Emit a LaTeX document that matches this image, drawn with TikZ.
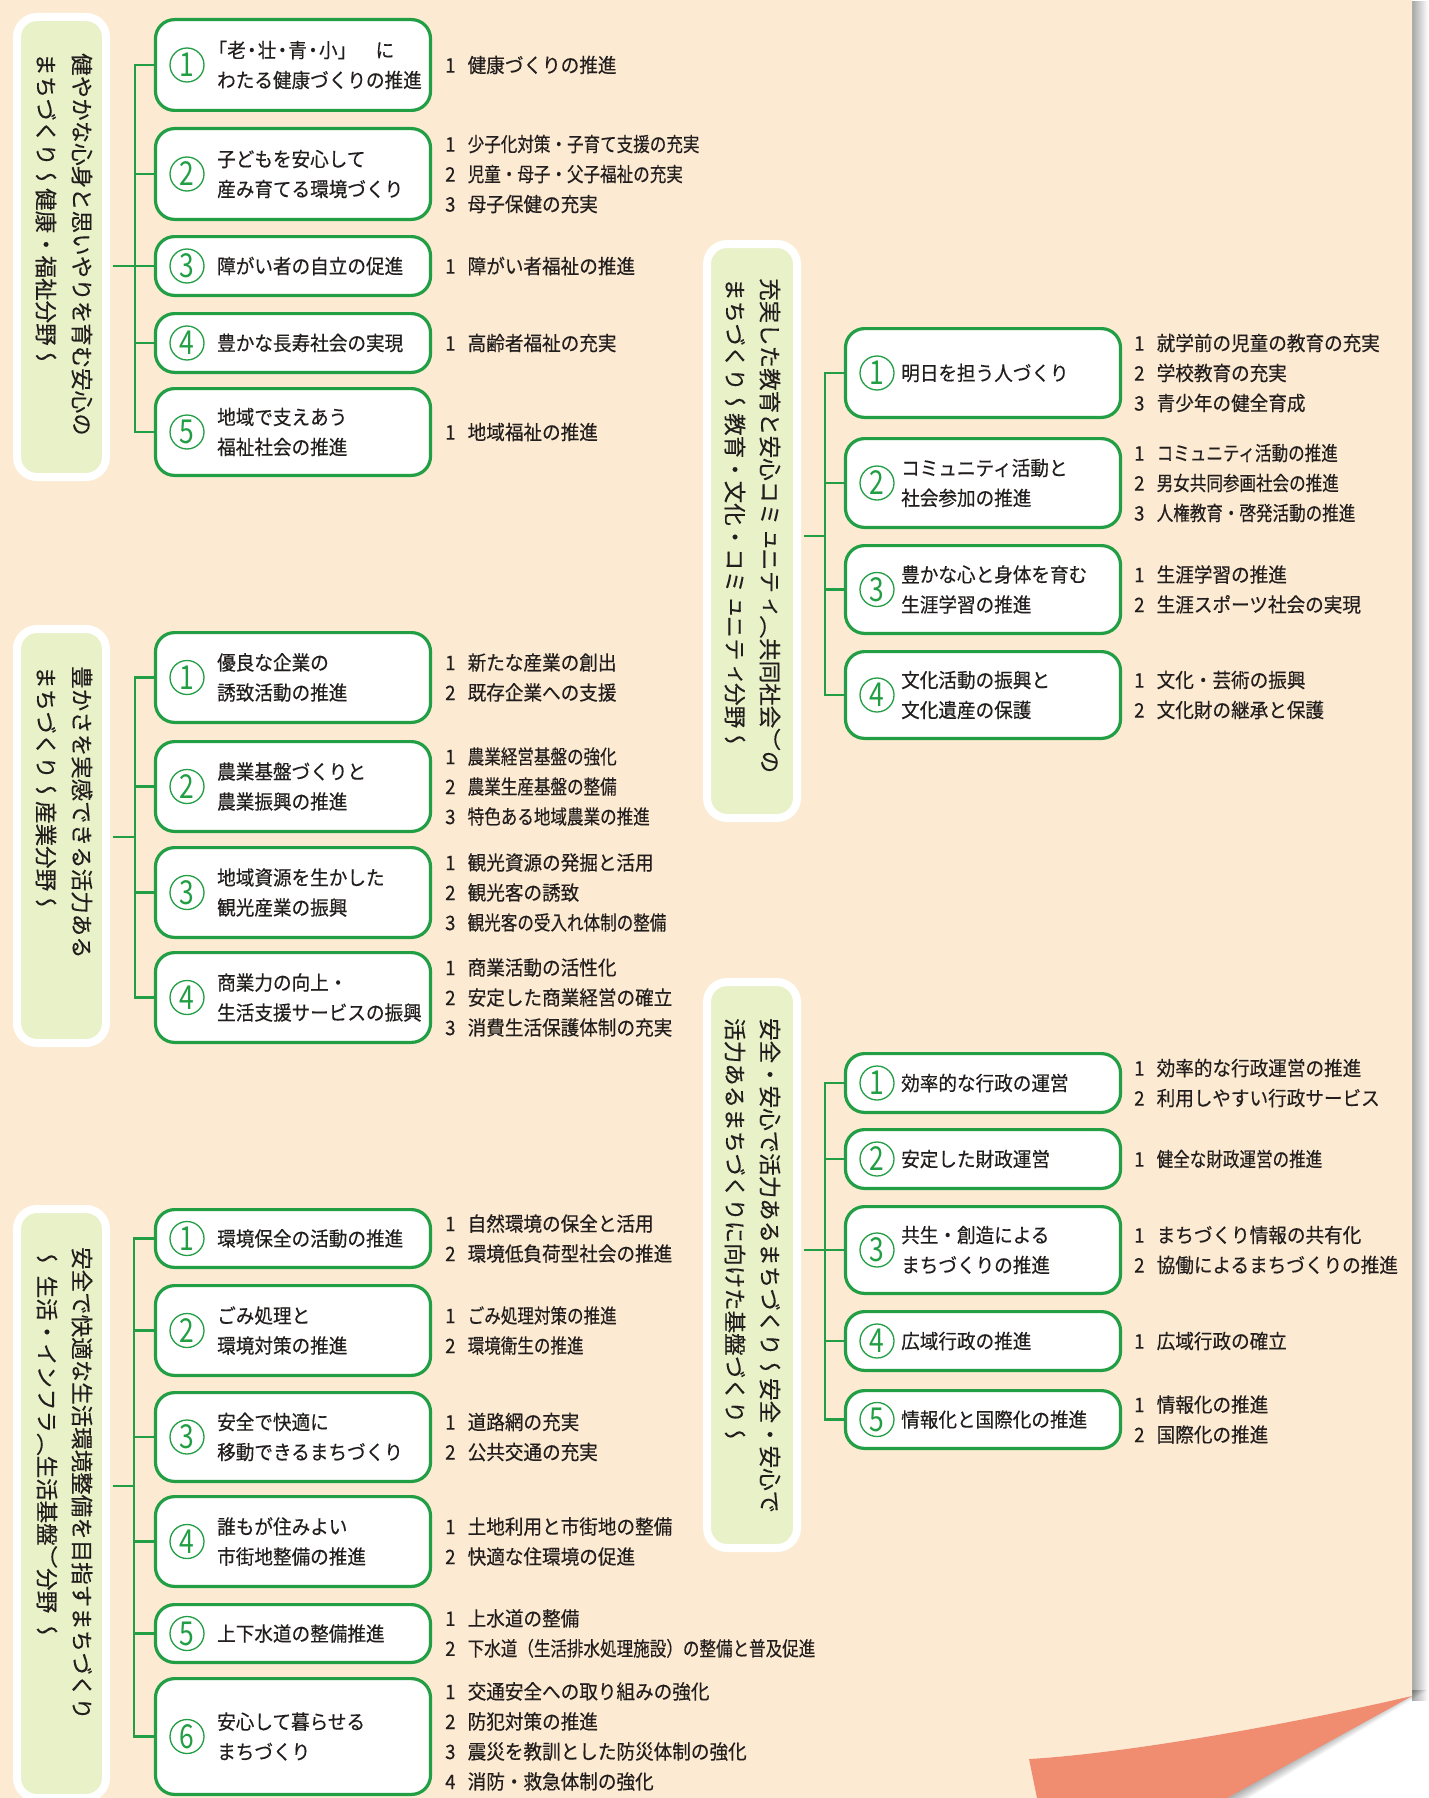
\documentclass[tikz,border=0pt]{standalone}
\usepackage{graphicx}
\usepackage{fontspec}
\setmainfont{Noto Sans CJK JP}[FakeStretch=0.93,FakeBold=0.35]
\newfontfamily\vjp{Noto Sans CJK JP}[Vertical=RotatedGlyphs,FakeBold=0.3]
\newfontfamily\numjp{Noto Sans CJK JP}[FakeStretch=0.8]
\usetikzlibrary{calc}
\definecolor{grn}{RGB}{34,158,68}
\definecolor{catfill}{RGB}{233,241,201}
\definecolor{paper}{RGB}{252,235,210}
\definecolor{flapc}{RGB}{240,140,112}
\definecolor{ink}{RGB}{35,30,30}
\newcommand\itm[2]{\makebox[22.5pt][l]{#1}#2}
\newcommand\cnd[1]{\scalebox{0.89}[1]{#1}}
\tikzset{
  catbox/.style={rectangle, draw=white, line width=8pt, fill=catfill, rounded corners=20pt, inner sep=0pt},
  boxst/.style={rectangle, draw=grn, line width=3.2pt, fill=white, rounded corners=19pt, inner sep=0pt, minimum width=275pt},
  num/.style={circle, draw=grn, line width=1.3pt, minimum size=34pt, inner sep=0pt, text=grn, font=\numjp\fontsize{33}{33}\selectfont},
  btxt/.style={anchor=west, inner sep=0pt, align=left, text=ink, font=\fontsize{20}{30}\selectfont},
  vtxt/.style={anchor=west, rotate=-90, inner sep=0pt, text=ink, font=\vjp\fontsize{22.5}{24}\selectfont},
  conn/.style={draw=grn, line width=2.4pt, line cap=rect},
}
\newcommand\mkbox[8]{%
  \pgfmathsetmacro\bh{#4-#3-3.2}%
  \pgfmathsetmacro\bcy{(#3+#4)/2}%
  \pgfmathsetmacro\bcx{#2+139}%
  \pgfmathsetmacro\ix{#2<500 ? 445 : 1134}%
  \node[boxst, minimum height=\bh pt] (#1) at (\bcx,\bcy) {};
  \node[num] (#1n) at (#2+33,\bcy) {#5};
  \node[btxt] (#1t) at (#7,\bcy) {#6};
  \node[btxt] (#1i) at (\ix,\bcy) {#8};}
\newcommand\mkcat[5]{%
  \pgfmathsetmacro\cw{#4-#2-8}%
  \pgfmathsetmacro\ch{#5-#3-8}%
  \pgfmathsetmacro\ccx{(#2+#4)/2}%
  \pgfmathsetmacro\ccy{(#3+#5)/2}%
  \node[catbox, minimum width=\cw pt, minimum height=\ch pt] (#1) at (\ccx,\ccy) {};}
\begin{document}
\begin{tikzpicture}[x=1pt,y=-1pt]
\useasboundingbox (0,0) rectangle (1428,1798);
\fill[white] (0,0) rectangle (1428,1798);
% page shadow
\shade[left color=black!35, right color=white] (1412,2) rectangle (1428,1700);
\foreach \s in {1,...,10}
  \fill[black, opacity=0.035] (1412,1690) -- (1412+1.6*\s,1690) -- (1227+2.2*\s,1798) -- (1227,1798) -- cycle;
% page and curled corner
\fill[paper] (0,0) -- (1412,0) -- (1412,1696) .. controls (1300,1722) and (1132,1753) .. (1029,1759) -- (1037,1798) -- (0,1798) -- cycle;
\fill[flapc] (1029,1759) .. controls (1132,1753) and (1300,1722) .. (1412,1696) -- (1227,1798) -- (1037,1798) -- cycle;

% ---------- category boxes ----------
\mkcat{c1}{13}{13}{110}{481}
\mkcat{c2}{703}{240}{801}{822}
\mkcat{c3}{13}{625}{110}{1047}
\mkcat{c4}{703}{978}{801}{1552}
\mkcat{c5}{13}{1205}{110}{1802}

\node[vtxt] (c1r) at (82,53) {健やかな心身と思いやりを育む安心の};
\node[vtxt] (c1l) at (46,53) {まちづくり～健康・福祉分野～};
\node[vtxt] (c2r) at (770,278) {充実した教育と安心コミュニティ（共同社会）の};
\node[vtxt] (c2l) at (735,278) {まちづくり～教育・文化・コミュニティ分野～};
\node[vtxt] (c3r) at (82,666) {豊かさを実感できる活力ある};
\node[vtxt] (c3l) at (46,666) {まちづくり～産業分野～};
\node[vtxt] (c4r) at (770,1018) {安全・安心で活力あるまちづくり～安全・安心で};
\node[vtxt] (c4l) at (735,1018) {活力あるまちづくりに向けた基盤づくり～};
\node[vtxt] (c5r) at (82,1247) {安全で快適な生活環境整備を目指すまちづくり};
\node[vtxt] (c5l) at (47,1247) {～\hspace{6pt}生活・インフラ（生活基盤）分野\hspace{6pt}～};

% ---------- section 1 ----------
\mkbox{b11}{154}{18}{112}{1}{\makebox[10pt][r]{「}老\makebox[12pt]{・}壮\makebox[12pt]{・}青\makebox[12pt]{・}小\makebox[10pt][l]{」}\hspace{28pt}に\\わたる健康づくりの推進}{217}{\itm{1}{健康づくりの推進}}
\mkbox{b12}{154}{127}{221}{2}{子どもを安心して\\産み育てる環境づくり}{217}{\itm{1}{\cnd{少子化対策・子育て支援の充実}}\\\itm{2}{\cnd{児童・母子・父子福祉の充実}}\\\itm{3}{母子保健の充実}}
\mkbox{b13}{154}{235}{297}{3}{障がい者の自立の促進}{217}{\itm{1}{障がい者福祉の推進}}
\mkbox{b14}{154}{312}{374}{4}{豊かな長寿社会の実現}{217}{\itm{1}{高齢者福祉の充実}}
\mkbox{b15}{154}{387}{477}{5}{地域で支えあう\\福祉社会の推進}{217}{\itm{1}{地域福祉の推進}}

% ---------- section 2 ----------
\mkbox{b21}{844}{327}{419}{1}{明日を担う人づくり}{901}{\itm{1}{就学前の児童の教育の充実}\\\itm{2}{学校教育の充実}\\\itm{3}{青少年の健全育成}}
\mkbox{b22}{844}{437}{529}{2}{コミュニティ活動と\\社会参加の推進}{901}{\itm{1}{\cnd{コミュニティ活動の推進}}\\\itm{2}{\cnd{男女共同参画社会の推進}}\\\itm{3}{\cnd{人権教育・啓発活動の推進}}}
\mkbox{b23}{844}{544}{635}{3}{豊かな心と身体を育む\\生涯学習の推進}{901}{\itm{1}{生涯学習の推進}\\\itm{2}{生涯スポーツ社会の実現}}
\mkbox{b24}{844}{650}{740}{4}{文化活動の振興と\\文化遺産の保護}{901}{\itm{1}{文化・芸術の振興}\\\itm{2}{文化財の継承と保護}}

% ---------- section 3 ----------
\mkbox{b31}{154}{631}{724}{1}{優良な企業の\\誘致活動の推進}{217}{\itm{1}{新たな産業の創出}\\\itm{2}{既存企業への支援}}
\mkbox{b32}{154}{740}{833}{2}{農業基盤づくりと\\農業振興の推進}{217}{\itm{1}{\cnd{農業経営基盤の強化}}\\\itm{2}{\cnd{農業生産基盤の整備}}\\\itm{3}{\cnd{特色ある地域農業の推進}}}
\mkbox{b33}{154}{846}{939}{3}{地域資源を生かした\\観光産業の振興}{217}{\itm{1}{観光資源の発掘と活用}\\\itm{2}{観光客の誘致}\\\itm{3}{\cnd{観光客の受入れ体制の整備}}}
\mkbox{b34}{154}{951}{1044}{4}{商業力の向上・\\生活支援サービスの振興}{217}{\itm{1}{商業活動の活性化}\\\itm{2}{安定した商業経営の確立}\\\itm{3}{消費生活保護体制の充実}}

% ---------- section 4 ----------
\mkbox{b41}{844}{1052}{1114}{1}{効率的な行政の運営}{901}{\itm{1}{効率的な行政運営の推進}\\\itm{2}{利用しやすい行政サービス}}
\mkbox{b42}{844}{1128}{1190}{2}{安定した財政運営}{901}{\itm{1}{\cnd{健全な財政運営の推進}}}
\mkbox{b43}{844}{1205}{1295}{3}{共生・創造による\\まちづくりの推進}{901}{\itm{1}{まちづくり情報の共有化}\\\itm{2}{協働によるまちづくりの推進}}
\mkbox{b44}{844}{1310}{1372}{4}{広域行政の推進}{901}{\itm{1}{広域行政の確立}}
\mkbox{b45}{844}{1389}{1450}{5}{情報化と国際化の推進}{901}{\itm{1}{情報化の推進}\\\itm{2}{国際化の推進}}

% ---------- section 5 ----------
\mkbox{b51}{154}{1208}{1269}{1}{環境保全の活動の推進}{217}{\itm{1}{自然環境の保全と活用}\\\itm{2}{環境低負荷型社会の推進}}
\mkbox{b52}{154}{1284}{1377}{2}{ごみ処理と\\環境対策の推進}{217}{\itm{1}{\cnd{ごみ処理対策の推進}}\\\itm{2}{\cnd{環境衛生の推進}}}
\mkbox{b53}{154}{1391}{1483}{3}{安全で快適に\\移動できるまちづくり}{217}{\itm{1}{道路網の充実}\\\itm{2}{公共交通の充実}}
\mkbox{b54}{154}{1495}{1588}{4}{誰もが住みよい\\市街地整備の推進}{217}{\itm{1}{土地利用と市街地の整備}\\\itm{2}{快適な住環境の促進}}
\mkbox{b55}{154}{1603}{1664}{5}{上下水道の整備推進}{217}{\itm{1}{上水道の整備}\\\itm{2}{\cnd{下水道（生活排水処理施設）の整備と普及促進}}}
\mkbox{b56}{154}{1677}{1796}{6}{安心して暮らせる\\まちづくり}{217}{\itm{1}{交通安全への取り組みの強化}\\\itm{2}{防犯対策の推進}\\\itm{3}{震災を教訓とした防災体制の強化}\\\itm{4}{消防・救急体制の強化}}

% ---------- connectors ----------
\coordinate (j1) at (135,266);
\coordinate (j2) at (825,536);
\coordinate (j3) at (135,837);
\coordinate (j4) at (825,1250);
\coordinate (j5) at (134,1486);
\foreach \s/\n in {1/5,2/4,3/4,4/5,5/6}{
  \coordinate (c\s e) at ([xshift=4pt]c\s.east);
  \draw[conn] (c\s e |- j\s) -- (j\s);
  \draw[conn] (j\s |- b\s1.west) -- (j\s |- b\s\n.west);
  \foreach \k in {1,...,\n}
    \draw[conn] (j\s |- b\s\k.west) -- (b\s\k.west);
}
\end{tikzpicture}
\end{document}
